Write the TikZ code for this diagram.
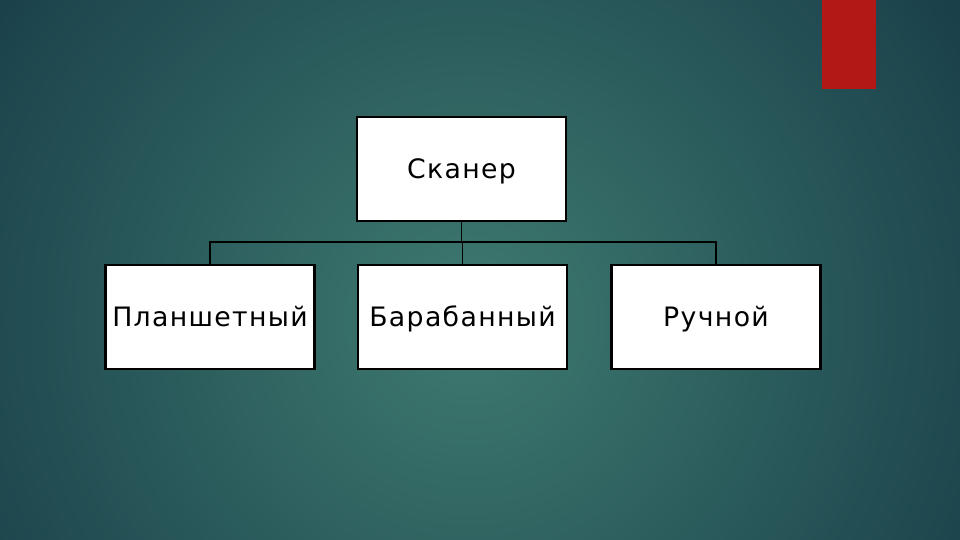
\documentclass[tikz,border=0pt]{standalone}
\usepackage{fontspec}
\setmainfont{DejaVu Sans}[LetterSpace=5]
\usetikzlibrary{calc}
\usetikzlibrary{positioning}
\definecolor{bglight}{RGB}{62,122,112}
\definecolor{bgedge}{RGB}{22,58,70}
\definecolor{barred}{RGB}{178,24,22}
\tikzset{every node/.style={font=\rmfamily}}
\tikzset{box/.style={draw=black, fill=white, line width=0.7pt, minimum width=2.09cm, minimum height=1.04cm, inner sep=0pt, text height=5.5pt, text depth=0pt, font=\fontsize{7.6}{9}\selectfont}}
\tikzset{link/.style={draw=black, line width=0.55pt}}

\begin{document}
\begin{tikzpicture}[x=0.01cm, y=0.01cm]

% фон
\useasboundingbox (0,0) rectangle (960,540);
\fill[bgedge] (0,0) rectangle (960,540);
\begin{scope}
\clip (0,0) rectangle (960,540);
\shade[inner color=bglight, outer color=bgedge] (470,220) circle (640);
\end{scope}

% красная полоса
\fill[barred] (822,540) rectangle (876,451);

% узлы
\node[box] (S) at (461.5,371) {Сканер};

\node[box] (P) at (210,223) {Планшетный};
\node[box] (B) at (462.5,223) {Барабанный};
\node[box] (R) at (716,223) {Ручной};

\coordinate (J) at (461.5,298);

% соединения
\draw[link] (S.south) -- (J);
\draw[link] (P.north) |- (J) -| (R.north);
\draw[link] (B.north) -- (B.north |- J);

\end{tikzpicture}
\end{document}
